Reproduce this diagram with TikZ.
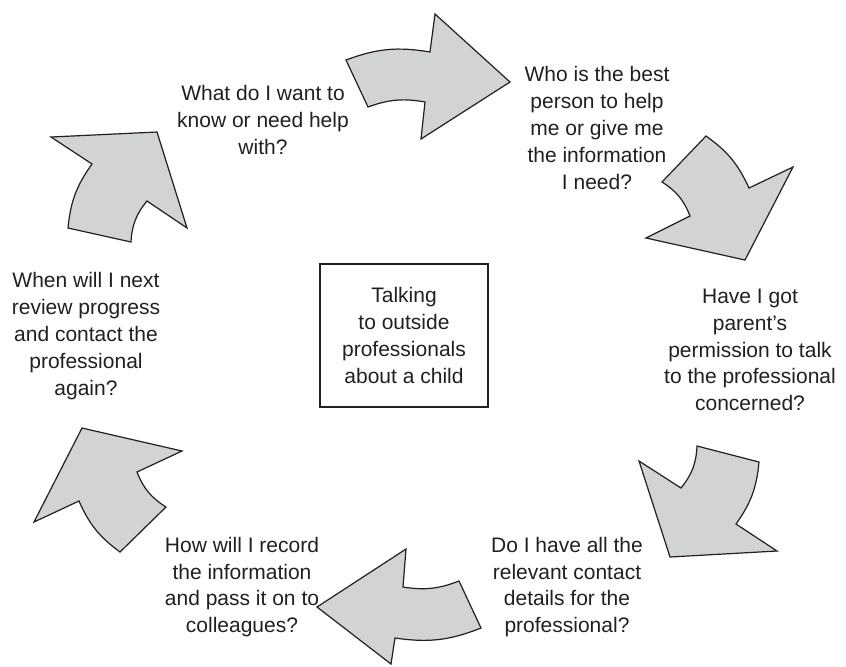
\documentclass[tikz,border=0pt]{standalone}
\usepackage{fontspec}
\setmainfont{Liberation Sans}
\definecolor{ArrowGrey}{RGB}{209,211,212}
\definecolor{TextBlack}{RGB}{35,31,32}

\begin{document}
\begin{tikzpicture}[
    % Environment Config
    x=0.5pt, y=-0.5pt,
    font=\fontsize{10.5}{13.4}\selectfont,
    CycleArrow/.style={% Style for the grey curved arrows
      draw=TextBlack,
      fill=ArrowGrey,
      line width=0.6pt,
      line join=miter
    },
    StepText/.style={% Style for the questions round the cycle
      align=center,
      inner sep=0pt,
      text=TextBlack
    },
    CentreBox/.style={% Style for the box in the middle
      draw=TextBlack,
      line width=0.6pt,
      align=center,
      text=TextBlack,
      minimum width=84pt,
      minimum height=71.5pt
    }
  ]

  % Fix the page size
  \useasboundingbox (0,0) rectangle (846,666);

  %===Arrow: top===
  \draw[CycleArrow]
  (346,60)
      to[bend left=15] (430,52)
      -- (435,14) -- (510,82) -- (421,139) -- (425,102)
      to[bend right=15] (368,107)
      -- cycle;

  %===Arrow: top right===
  \draw[CycleArrow]
  (706,136)
      to[bend left=15] (749,188)
      -- (793,167) -- (745,260) -- (646,238) -- (690,216)
      to[bend right=18] (662,182)
      -- cycle;

  %===Arrow: bottom right===
  \draw[CycleArrow]
  (759,462)
      to[bend left=15] (736,524)
      -- (777,551) -- (670,557) -- (639,461) -- (681,488)
      to[bend right=18] (697,446)
      -- cycle;

  %===Arrow: bottom===
  \draw[CycleArrow]
  (459,581)
      to[bend left=15] (403,587)
      -- (406,549) -- (317,607) -- (391,664) -- (395,638)
      to[bend right=15] (481,628)
      -- cycle;

  %===Arrow: bottom left===
  \draw[CycleArrow]
  (137,472)
      to[bend right=18] (166,507)
      -- (120,552)
      to[bend left=15] (79,501)
      -- (34,522) -- (82,428) -- (182,451)
      -- cycle;

  %===Arrow: top left===
  \draw[CycleArrow]
  (147,201)
      to[bend right=18] (131,242)
      -- (68,228)
      to[bend left=15] (92,164)
      -- (51,137) -- (157,132) -- (187,228)
      -- cycle;

  % Centre box
  \node[CentreBox] (Topic) at (404,335.5)
      {Talking\\to outside\\professionals\\about a child};

  % Questions, clockwise from the top
  \node[StepText] (Want) at (263,120)
      {What do I want to\\know or need help\\with?};
  \node[StepText] (Who) at (597,128)
      {Who is the best\\person to help\\me or give me\\the information\\I need?};
  \node[StepText] (Permission) at (750,350)
      {Have I got\\parent’s\\permission to talk\\to the professional\\concerned?};
  \node[StepText] (Contact) at (567,587)
      {Do I have all the\\relevant contact\\details for the\\professional?};
  \node[StepText] (Record) at (242,587)
      {How will I record\\the information\\and pass it on to\\colleagues?};
  \node[StepText] (Review) at (86,336)
      {When will I next\\review progress\\and contact the\\professional\\again?};

\end{tikzpicture}
\end{document}
